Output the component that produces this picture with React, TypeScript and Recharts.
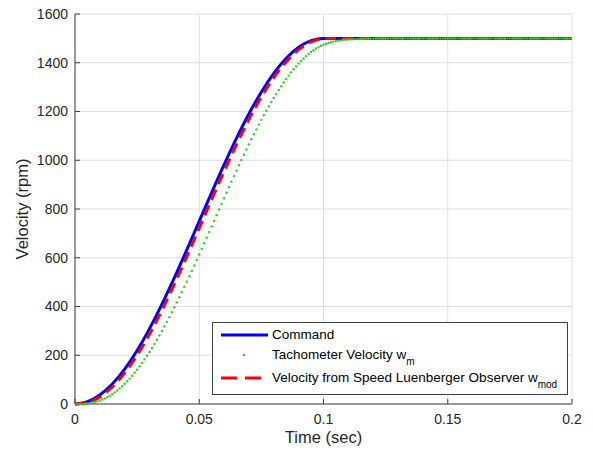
import { LineChart, Line, XAxis, YAxis, CartesianGrid, Legend } from "recharts";

const xTicks = [0, 0.05, 0.1, 0.15, 0.2];
const yTicks = [0, 200, 400, 600, 800, 1000, 1200, 1400, 1600];

// command / observer sample times (ms)
const coarseMs = [
  0, 5, 10, 15, 20, 25, 30, 35, 40, 45, 50, 55, 60, 65, 70, 75, 80, 85, 90, 95, 100,
  105, 110, 115, 120, 125, 130, 135, 140, 145, 150, 155, 160, 165, 170, 175, 180, 185, 190, 195, 200,
];

const commandRpm = [
  0, 9.2, 36.7, 81.7, 143.2, 219.7, 309.2, 409.5, 518.2, 632.7, 750, 867.3, 981.8, 1090.5, 1190.8,
  1280.3, 1356.8, 1418.3, 1463.3, 1490.8, 1500,
  1500, 1500, 1500, 1500, 1500, 1500, 1500, 1500, 1500, 1500,
  1500, 1500, 1500, 1500, 1500, 1500, 1500, 1500, 1500, 1500,
];

const observerRpm = [
  0, 5.9, 29.0, 69.9, 127.5, 200.5, 286.9, 384.8, 491.7, 605.0, 721.8, 839.3, 954.6, 1064.8, 1167.5,
  1259.7, 1339.3, 1404.5, 1453.6, 1485.3, 1498.9,
  1500, 1500, 1500, 1500, 1500, 1500, 1500, 1500, 1500, 1500,
  1500, 1500, 1500, 1500, 1500, 1500, 1500, 1500, 1500, 1500,
];

// tachometer samples every 1 ms
const tachMs = [
  0, 1, 2, 3, 4, 5, 6, 7, 8, 9,
  10, 11, 12, 13, 14, 15, 16, 17, 18, 19,
  20, 21, 22, 23, 24, 25, 26, 27, 28, 29,
  30, 31, 32, 33, 34, 35, 36, 37, 38, 39,
  40, 41, 42, 43, 44, 45, 46, 47, 48, 49,
  50, 51, 52, 53, 54, 55, 56, 57, 58, 59,
  60, 61, 62, 63, 64, 65, 66, 67, 68, 69,
  70, 71, 72, 73, 74, 75, 76, 77, 78, 79,
  80, 81, 82, 83, 84, 85, 86, 87, 88, 89,
  90, 91, 92, 93, 94, 95, 96, 97, 98, 99,
  100, 101, 102, 103, 104, 105, 106, 107, 108, 109,
  110, 111, 112, 113, 114, 115, 116, 117, 118, 119,
  120, 121, 122, 123, 124, 125, 126, 127, 128, 129,
  130, 131, 132, 133, 134, 135, 136, 137, 138, 139,
  140, 141, 142, 143, 144, 145, 146, 147, 148, 149,
  150, 151, 152, 153, 154, 155, 156, 157, 158, 159,
  160, 161, 162, 163, 164, 165, 166, 167, 168, 169,
  170, 171, 172, 173, 174, 175, 176, 177, 178, 179,
  180, 181, 182, 183, 184, 185, 186, 187, 188, 189,
  190, 191, 192, 193, 194, 195, 196, 197, 198, 199,
  200,
];

const tachRpm = [
  0, 0, 0.2, 0.5, 1.2, 2.1, 3.5, 5.4, 7.8, 10.7,
  14.2, 18.2, 22.9, 28.2, 34.1, 40.6, 47.8, 55.6, 64.1, 73.2,
  82.9, 93.3, 104.3, 115.9, 128.1, 140.9, 154.4, 168.3, 182.9, 198.0,
  213.6, 229.9, 246.5, 263.7, 281.4, 299.5, 318.0, 337.1, 356.4, 376.2,
  396.4, 416.9, 437.7, 458.8, 480.2, 501.9, 523.8, 545.9, 568.3, 590.8,
  613.5, 636.3, 659.2, 682.2, 705.3, 728.5, 751.6, 774.8, 797.9, 821.0,
  844.0, 866.9, 889.7, 912.3, 934.9, 957.2, 979.3, 1001.2, 1022.8, 1044.2,
  1065.3, 1086.1, 1106.5, 1126.6, 1146.3, 1165.7, 1184.6, 1203.1, 1221.1, 1238.7,
  1255.8, 1272.3, 1288.4, 1303.8, 1318.8, 1333.3, 1347.2, 1360.4, 1373.1, 1385.2,
  1396.5, 1407.4, 1417.6, 1427.0, 1435.8, 1444.0, 1451.4, 1458.2, 1464.2, 1469.6,
  1474.2, 1478.2, 1481.5, 1484.4, 1486.8, 1488.8, 1490.5, 1492.0, 1493.2, 1494.3,
  1495.1, 1495.9, 1496.5, 1497.1, 1497.5, 1497.9, 1498.2, 1498.5, 1498.7, 1498.9,
  1499.1, 1499.2, 1499.3, 1499.4, 1499.5, 1499.6, 1499.7, 1499.7, 1499.8, 1499.8,
  1499.8, 1499.9, 1499.9, 1499.9, 1499.9, 1500, 1500, 1500, 1500, 1500,
  1500, 1500, 1500, 1500, 1500, 1500, 1500, 1500, 1500, 1500,
  1500, 1500, 1500, 1500, 1500, 1500, 1500, 1500, 1500, 1500,
  1500, 1500, 1500, 1500, 1500, 1500, 1500, 1500, 1500, 1500,
  1500, 1500, 1500, 1500, 1500, 1500, 1500, 1500, 1500, 1500,
  1500, 1500, 1500, 1500, 1500, 1500, 1500, 1500, 1500, 1500,
  1500, 1500, 1500, 1500, 1500, 1500, 1500, 1500, 1500, 1500,
  1500,
];

const commandData = coarseMs.map((ms, i) => ({ t: ms / 1000, v: commandRpm[i] }));
const observerData = coarseMs.map((ms, i) => ({ t: ms / 1000, v: observerRpm[i] }));
const tachData = tachMs.map((ms, i) => ({ t: ms / 1000, v: tachRpm[i] }));

const colors = {
  command: "#0000ff",
  tach: "#33cc1f",
  observer: "#ff0000",
  axis: "#404040",
  grid: "#dfdfdf",
  text: "#262626",
};

const font = "'Liberation Sans', Arial, sans-serif";

const rowText = { position: "absolute" as const, left: 59, whiteSpace: "nowrap" as const, lineHeight: "16px" };
const sub = { fontSize: 10, position: "relative" as const, top: 6 };

const renderLegend = () => (
  <div
    style={{
      width: 356,
      height: 73,
      boxSizing: "border-box",
      border: `1px solid ${colors.axis}`,
      background: "#fff",
      position: "relative",
      fontFamily: font,
      fontSize: 13.5,
      color: "#000",
    }}
  >
    <svg width={60} height={73} style={{ position: "absolute", left: 0, top: 0 }}>
      <line x1={8} x2={55} y1={12} y2={12} stroke={colors.command} strokeWidth={3} />
      <circle cx={31} cy={32} r={1.3} fill={colors.tach} />
      <line x1={8} x2={55} y1={55} y2={55} stroke={colors.observer} strokeWidth={3} strokeDasharray="16 8" />
    </svg>
    <div style={{ ...rowText, top: 4 }}>Command</div>
    <div style={{ ...rowText, top: 24 }}>
      Tachometer Velocity w<span style={sub}>m</span>
    </div>
    <div style={{ ...rowText, top: 47 }}>
      Velocity from Speed Luenberger Observer w<span style={sub}>mod</span>
    </div>
  </div>
);

export default function App() {
  return (
    <div style={{ position: "absolute", left: 0, top: 0, background: "#fff" }}>
      <LineChart width={593} height={451} margin={{ top: 14, right: 21, bottom: 0, left: 0 }}>
        <CartesianGrid stroke={colors.grid} xAxisId="x" yAxisId="y" />
        <XAxis
          xAxisId="x"
          type="number"
          dataKey="t"
          domain={[0, 0.2]}
          ticks={xTicks}
          allowDataOverflow
          height={47}
          stroke={colors.axis}
          tickSize={-5}
          tickMargin={15}
          tick={{ fill: colors.text, fontSize: 14, fontFamily: font }}
          label={{ value: "Time (sec)", position: "insideBottom", offset: 8, fill: colors.text, fontSize: 16.5, fontFamily: font }}
        />
        <XAxis
          xAxisId="top"
          orientation="top"
          type="number"
          dataKey="t"
          domain={[0, 0.2]}
          ticks={xTicks}
          height={0}
          stroke={colors.axis}
          tickSize={-5}
          tick={false}
        />
        <YAxis
          yAxisId="y"
          type="number"
          domain={[0, 1600]}
          ticks={yTicks}
          width={75}
          stroke={colors.axis}
          tickSize={-5}
          tickMargin={12}
          tick={{ fill: colors.text, fontSize: 14, fontFamily: font }}
          label={{
            value: "Velocity (rpm)",
            angle: -90,
            position: "insideLeft",
            offset: 22,
            fill: colors.text,
            fontSize: 16.5,
            fontFamily: font,
            style: { textAnchor: "middle" },
          }}
        />
        <YAxis
          yAxisId="right"
          orientation="right"
          type="number"
          domain={[0, 1600]}
          ticks={yTicks}
          width={0}
          stroke={colors.axis}
          tickSize={-5}
          tick={false}
        />
        <Legend
          layout="vertical"
          align="center"
          verticalAlign="middle"
          content={renderLegend}
          wrapperStyle={{ left: 212, top: 322, width: 356, height: 73 }}
        />
        <Line
          xAxisId="x"
          yAxisId="y"
          data={commandData}
          dataKey="v"
          type="monotone"
          stroke={colors.command}
          strokeWidth={3}
          dot={false}
          isAnimationActive={false}
        />
        <Line
          xAxisId="x"
          yAxisId="y"
          data={tachData}
          dataKey="v"
          stroke="none"
          dot={{ r: 1.2, fill: colors.tach, stroke: "none" }}
          isAnimationActive={false}
        />
        <Line
          xAxisId="x"
          yAxisId="y"
          data={observerData}
          dataKey="v"
          type="monotone"
          stroke={colors.observer}
          strokeWidth={3}
          strokeDasharray="11 6"
          dot={false}
          isAnimationActive={false}
        />
      </LineChart>
    </div>
  );
}
